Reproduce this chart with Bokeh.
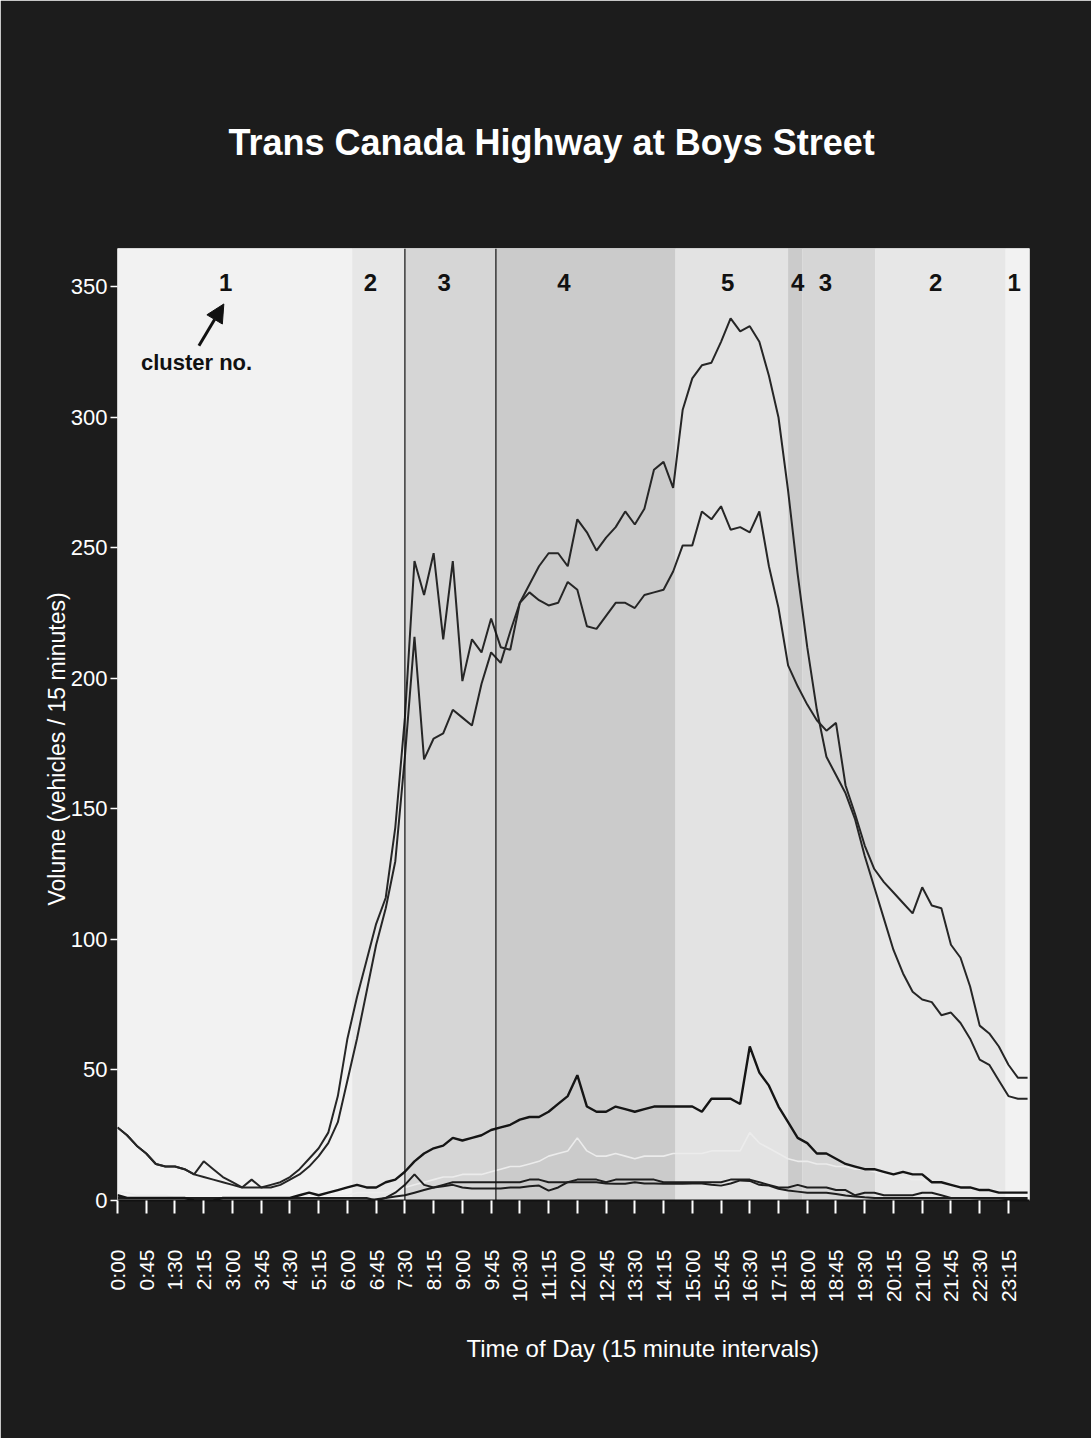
import math
from bokeh.plotting import figure
from bokeh.models import Range1d, FixedTicker, Label, Span, Arrow, NormalHead, ColumnDataSource, Title
from bokeh.core.properties import value
from bokeh.embed import file_html
from bokeh.resources import INLINE

# ---------------- data ----------------
# 15-minute interval index (0 = 0:00 ... 95 = 23:45)
interval = list(range(96))

tick_labels = ["0:00", "0:45", "1:30", "2:15", "3:00", "3:45", "4:30", "5:15",
               "6:00", "6:45", "7:30", "8:15", "9:00", "9:45", "10:30", "11:15",
               "12:00", "12:45", "13:30", "14:15", "15:00", "15:45", "16:30", "17:15",
               "18:00", "18:45", "19:30", "20:15", "21:00", "21:45", "22:30", "23:15"]
tick_intervals = [0, 3, 6, 9, 12, 15, 18, 21, 24, 27, 30, 33, 36, 39, 42, 45,
                  48, 51, 54, 57, 60, 63, 66, 69, 72, 75, 78, 81, 84, 87, 90, 93]

y_ticks = [0, 50, 100, 150, 200, 250, 300, 350]

# traffic volumes (vehicles / 15 min)
series_a = [28, 25, 21, 18, 14, 13, 13, 12, 10, 15,
            12, 9, 7, 5, 8, 5, 6, 7, 9, 12,
            16, 20, 26, 40, 62, 78, 92, 106, 116, 143,
            185, 245, 232, 248, 215, 245, 199, 215, 210, 223,
            212, 211, 229, 233, 230, 228, 229, 237, 234, 220,
            219, 224, 229, 229, 227, 232, 233, 234, 241, 251,
            251, 264, 261, 266, 257, 258, 256, 264, 243, 227,
            205, 197, 190, 184, 180, 183, 159, 148, 136, 127,
            122, 118, 114, 110, 120, 113, 112, 98, 93, 82,
            67, 64, 59, 52, 47, 47]
series_b = [28, 25, 21, 18, 14, 13, 13, 12, 10, 9,
            8, 7, 6, 5, 5, 5, 5, 6, 8, 10,
            13, 17, 22, 30, 46, 62, 80, 98, 112, 130,
            170, 216, 169, 177, 179, 188, 185, 182, 198, 210,
            206, 218, 229, 236, 243, 248, 248, 243, 261, 256,
            249, 254, 258, 264, 259, 265, 280, 283, 273, 303,
            315, 320, 321, 329, 338, 333, 335, 329, 316, 300,
            272, 240, 212, 188, 170, 163, 156, 146, 132, 120,
            108, 96, 87, 80, 77, 76, 71, 72, 68, 62,
            54, 52, 46, 40, 39, 39]
series_c = [2, 1, 1, 1, 1, 1, 1, 1, 0, 0,
            0, 1, 1, 1, 1, 1, 1, 1, 1, 2,
            3, 2, 3, 4, 5, 6, 5, 5, 7, 8,
            11, 15, 18, 20, 21, 24, 23, 24, 25, 27,
            28, 29, 31, 32, 32, 34, 37, 40, 48, 36,
            34, 34, 36, 35, 34, 35, 36, 36, 36, 36,
            36, 34, 39, 39, 39, 37, 59, 49, 44, 36,
            30, 24, 22, 18, 18, 16, 14, 13, 12, 12,
            11, 10, 11, 10, 10, 7, 7, 6, 5, 5,
            4, 4, 3, 3, 3, 3]
series_d = [3, 3, 2, 2, 2, 2, 1, 1, 1, 1,
            1, 1, 1, 1, 1, 1, 1, 1, 1, 1,
            2, 2, 2, 2, 2, 3, 3, 3, 3, 4,
            5, 6, 7, 8, 9, 9, 10, 10, 10, 11,
            12, 13, 13, 14, 15, 17, 18, 19, 24, 19,
            17, 17, 18, 17, 16, 17, 17, 17, 18, 18,
            18, 18, 19, 19, 19, 19, 26, 22, 20, 18,
            16, 15, 15, 14, 14, 13, 13, 12, 12, 11,
            10, 9, 9, 8, 8, 7, 7, 6, 6, 5,
            5, 4, 4, 3, 3, 3]
series_e = [1, 1, 1, 1, 1, 1, 1, 1, 1, 1,
            1, 1, 1, 1, 1, 1, 1, 1, 1, 1,
            1, 1, 1, 1, 1, 1, 1, 0, 1, 3,
            6, 10, 6, 5, 6, 7, 7, 7, 7, 7,
            7, 7, 7, 8, 8, 7, 7, 7, 8, 8,
            8, 7, 8, 8, 8, 8, 8, 7, 7, 7,
            7, 7, 7, 7, 8, 8, 8, 7, 6, 5,
            5, 6, 5, 5, 5, 4, 4, 2, 3, 3,
            2, 2, 2, 2, 3, 3, 2, 1, 1, 1,
            1, 1, 1, 1, 1, 1]
series_f = [0, 0, 0, 0, 0, 0, 0, 0, 0, 0,
            0, 0, 0, 0, 0, 0, 0, 0, 0, 0,
            0, 0, 0, 0, 0, 0, 0, 0.5, 1, 1.5,
            2, 3, 4, 5, 5.5, 6, 5, 4.6, 4.6, 4.6,
            4.6, 5, 5, 5.5, 5.7, 3.8, 5, 7, 7, 7,
            7, 6.5, 6.4, 6.4, 7, 6.5, 6.5, 6.4, 6.4, 6.4,
            6.5, 6.5, 6, 5.7, 6.5, 7.7, 7.5, 6, 5.7, 4.5,
            3.8, 3.4, 3, 3, 3, 2.5, 1.9, 1.5, 1.2, 1,
            1, 1, 1, 1, 1, 1, 1, 1, 1, 1,
            0.8, 0.8, 0.8, 0.5, 0.5, 0.3]

# cluster segments along the day (interval units)
cluster_ids = [1, 2, 3, 4, 5, 4, 3, 2, 1]
cluster_start = [0, 24.5, 30.0, 39.5, 58.25, 70.0, 71.5, 79.1, 92.7]
cluster_end = [24.5, 30.0, 39.5, 58.25, 70.0, 71.5, 79.1, 92.7, 95.2]

# ---------------- styling ----------------
cluster_shades = {1: "#f2f2f2", 2: "#e7e7e7", 3: "#d6d6d6", 4: "#cbcbcb", 5: "#e3e3e3"}
cluster_label_x = [11.3, 26.4, 34.1, 46.6, 63.7, 71.0, 73.9, 85.4, 93.6]
FONT = "Liberation Sans"

p = figure(width=1091, height=1438, output_backend="svg", toolbar_location=None,
           x_range=Range1d(0, 95.2), y_range=Range1d(0, 364.75),
           min_border_left=117, min_border_right=62, min_border_top=248,
           min_border_bottom=238, title=None)
p.border_fill_color = "#1c1c1c"
p.background_fill_color = cluster_shades[1]
p.outline_line_color = None
p.grid.visible = False

band_src = ColumnDataSource(dict(
    left=cluster_start, right=cluster_end,
    color=[cluster_shades[c] for c in cluster_ids]))
p.quad(left="left", right="right", bottom=0, top=400, fill_color="color",
       line_color=None, source=band_src)

# boundaries of the morning peak cluster
for loc in (cluster_start[2], cluster_start[3]):
    p.add_layout(Span(location=loc, dimension="height", line_color="#111111", line_width=1.2))

p.line(interval, series_d, line_color="#ececec", line_width=1.6)
p.line(interval, series_f, line_color="#1e1e1e", line_width=2)
p.line(interval, series_e, line_color="#1e1e1e", line_width=2)
p.line(interval, series_c, line_color="#151515", line_width=2.4)
p.line(interval, series_b, line_color="#262626", line_width=2)
p.line(interval, series_a, line_color="#262626", line_width=2)

p.text(x=cluster_label_x, y=[351.7] * len(cluster_label_x),
       text=[str(c) for c in cluster_ids],
       text_font=value(FONT), text_font_style="bold", text_font_size="24px",
       text_color="#111111", text_align="center", text_baseline="middle")

p.add_layout(Label(x=8.25, y=321, text="cluster no.", text_font=FONT,
                   text_font_style="bold", text_font_size="22px", text_color="#111111",
                   text_align="center", text_baseline="middle"))
p.add_layout(Arrow(end=NormalHead(size=18, fill_color="#111111", line_color="#111111"),
                   x_start=8.5, y_start=327.5, x_end=11.1, y_end=343.5,
                   line_width=3, line_color="#111111"))

# axes
p.xaxis.ticker = FixedTicker(ticks=tick_intervals)
p.xaxis.major_label_overrides = {t: l for t, l in zip(tick_intervals, tick_labels)}
p.xaxis.major_label_orientation = math.pi / 2
p.xaxis.major_label_text_font = FONT
p.xaxis.major_label_text_font_size = "21px"
p.xaxis.major_label_text_color = "white"
p.xaxis.major_label_standoff = 36
p.xaxis.axis_line_color = "#111111"
p.xaxis.axis_line_width = 2
p.xaxis.major_tick_line_color = "white"
p.xaxis.major_tick_line_width = 2
p.xaxis.major_tick_out = 13
p.xaxis.major_tick_in = 0
p.xaxis.minor_tick_line_color = None

p.yaxis.ticker = FixedTicker(ticks=y_ticks)
p.yaxis.major_label_text_font = FONT
p.yaxis.major_label_text_font_size = "22px"
p.yaxis.major_label_text_color = "white"
p.yaxis.major_label_standoff = 3
p.yaxis.axis_line_color = None
p.yaxis.major_tick_line_color = "white"
p.yaxis.major_tick_line_width = 1.5
p.yaxis.major_tick_out = 7
p.yaxis.major_tick_in = 0
p.yaxis.minor_tick_line_color = None

# titles in the side panels
p.add_layout(Title(text="Trans Canada Highway at Boys Street", align="left", offset=111,
                   standoff=172, text_font=FONT, text_font_style="bold",
                   text_font_size="36px", text_color="white"), "above")
p.add_layout(Title(text="Time of Day (15 minute intervals)", align="left", offset=349,
                   standoff=54, text_font=FONT, text_font_style="normal",
                   text_font_size="24px", text_color="white"), "below")
p.add_layout(Title(text="Volume (vehicles / 15 minutes)", align="left", offset=295,
                   standoff=-4, text_font=FONT, text_font_style="normal",
                   text_font_size="23px", text_color="white"), "left")

open("out.html", "w").write(file_html(p, INLINE))
